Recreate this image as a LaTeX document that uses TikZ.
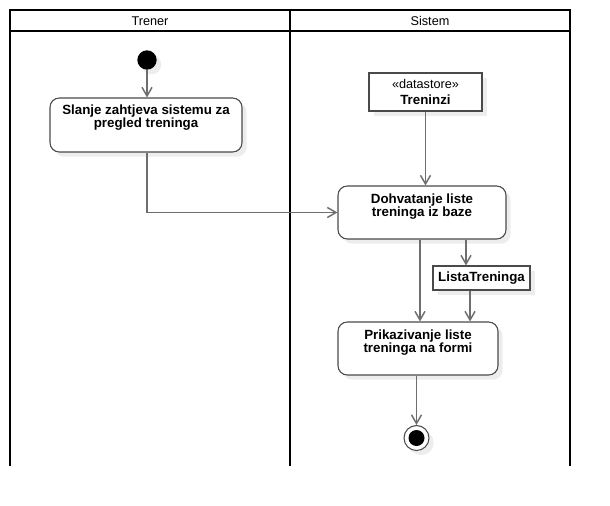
\documentclass[tikz,border=0pt]{standalone}
\usepackage{fontspec}
\setmainfont{Liberation Sans}
\usetikzlibrary{arrows.meta,shadows}
\definecolor{boxgray}{HTML}{4A4A4A}
\definecolor{edgegray}{HTML}{6E6E6E}
\definecolor{shadegray}{HTML}{EDEDED}

\begin{document}
\begin{tikzpicture}[x=0.75pt,y=-0.75pt,
  lane/.style={line width=1.5pt,black},
  lanehead/.style={inner sep=0pt,font=\fontsize{9.5}{11}\selectfont},
  shd/.style={drop shadow={shadow xshift=3.5pt,shadow yshift=-3.5pt,fill=shadegray,opacity=1}},
  act/.style={draw=boxgray,line width=0.8pt,rounded corners=7pt,fill=white,shd},
  acttext/.style={anchor=north,align=center,inner sep=0pt,font=\bfseries\fontsize{10}{10}\selectfont},
  obj/.style={draw=boxgray,line width=0.8pt,fill=white,shd,align=center},
  startnode/.style={circle,fill=black,inner sep=0pt,minimum size=14.5pt,shd},
  endnode/.style={circle,draw=boxgray,line width=0.8pt,fill=white,inner sep=0pt,minimum size=18.75pt,shd,
    path picture={\fill[black] (path picture bounding box.center) circle (6pt);}},
  flow/.style={draw=edgegray,line width=1.1pt,-{Straight Barb[length=6.5pt,width=7.5pt]}}]
\useasboundingbox (0,0) rectangle (610,506);

% swimlanes
\draw[lane] (10,466) -- (10,10) -- (570,10) -- (570,466);
\draw[lane] (290,10) -- (290,466);
\draw[lane] (10,31) -- (570,31);
\node[lanehead] (trener) at (150,21) {Trener};
\node[lanehead] (sistem) at (430,21) {Sistem};

% nodes
\node[startnode] (start) at (147,60) {};
\node[act,minimum width=144pt,minimum height=40.5pt] (slanje) at (146,125) {};
\node[acttext] (slanjetxt) at ([yshift=-5.4pt]slanje.north) {Slanje zahtjeva sistemu za\\pregled treninga};

\node[obj,minimum width=84.75pt,minimum height=28.5pt,font=\fontsize{9.5}{12}\selectfont] (treninzi) at (425.5,92)
  {«datastore»\\\textbf{\fontsize{10}{12}\selectfont Treninzi}};

\node[act,minimum width=126pt,minimum height=39.75pt] (dohvat) at (422,212.5) {};
\node[acttext] (dohvattxt) at ([yshift=-5.8pt]dohvat.north) {Dohvatanje liste\\treninga iz baze};

\node[obj,minimum width=72.75pt,minimum height=18pt,font=\bfseries\fontsize{10}{12}\selectfont] (lista) at (481.5,278) {ListaTreninga};

\node[act,minimum width=120pt,minimum height=39.75pt] (prikaz) at (418,348.5) {};
\node[acttext] (prikaztxt) at ([yshift=-5.8pt]prikaz.north) {Prikazivanje liste\\treninga na formi};

\node[endnode] (kraj) at (416.5,438) {};

% connectors
\coordinate (d1) at ([xshift=33pt]dohvat.south);
\coordinate (d2) at ([xshift=-1.5pt]dohvat.south);
\coordinate (l1) at ([xshift=-8.6pt]lista.south);

\draw[flow] (start) -- (start |- slanje.north);
\draw[flow] (start |- slanje.south) |- (dohvat.west);
\draw[flow] (treninzi) -- (treninzi |- dohvat.north);
\draw[flow] (d1) -- (d1 |- lista.north);
\draw[flow] (d2) -- (d2 |- prikaz.north);
\draw[flow] (l1) -- (l1 |- prikaz.north);
\draw[flow] (kraj |- prikaz.south) -- (kraj);
\end{tikzpicture}
\end{document}
